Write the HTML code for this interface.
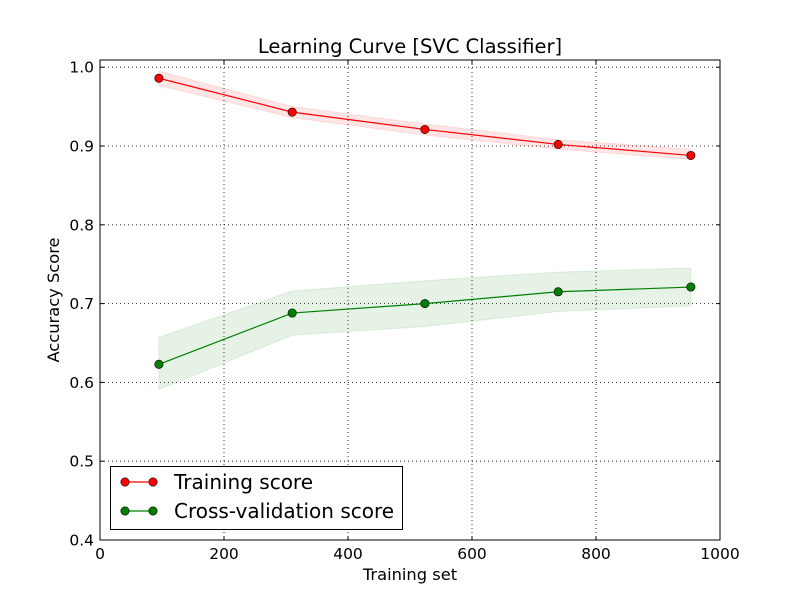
<!DOCTYPE html>
<html><head><meta charset="utf-8"><style>
body{margin:0;background:#fff;position:relative}
svg text{font-family:"DejaVu Sans","Liberation Sans",sans-serif;fill:#000}
</style></head><body>
<svg id="c" width="800" height="600" xmlns="http://www.w3.org/2000/svg">
<rect width="800" height="600" fill="#fff"/>
<g id="plot"></g>
</svg>
<script>
const trainSizes=[95,310,524,739,953];
const trainScore=[0.986,0.943,0.921,0.902,0.888];
const trainUpper=[0.995,0.950,0.928,0.908,0.896];
const trainLower=[0.977,0.936,0.914,0.896,0.883];
const cvScore=[0.623,0.688,0.700,0.715,0.721];
const cvUpper=[0.657,0.716,0.729,0.740,0.745];
const cvLower=[0.591,0.660,0.671,0.690,0.697];
const xTicks=[0,200,400,600,800,1000];
const yTicks=[0.4,0.5,0.6,0.7,0.8,0.9,1.0];
const yTickLabels=["0.4","0.5","0.6","0.7","0.8","0.9","1.0"];

const L=100,R=720,T=60,B=540;
const X=v=>L+(v-0)/(1000)*(R-L);
const Y=v=>B-(v-0.4)*788;
const NS="http://www.w3.org/2000/svg";
const g=document.getElementById('plot');
function mk(tag,attrs,parent){const e=document.createElementNS(NS,tag);for(const k in attrs)e.setAttribute(k,attrs[k]);(parent||g).appendChild(e);return e;}

xTicks.forEach(t=>{if(t>0&&t<1000){const l=mk('line',{x1:X(t),x2:X(t),y1:T,y2:B,stroke:'#000','stroke-width':0.8,'stroke-dasharray':'1,3'});

}});
yTicks.forEach(t=>{if(Y(t)>T+1&&Y(t)<B-1){const l=mk('line',{x1:L,x2:R,y1:Y(t),y2:Y(t),stroke:'#000','stroke-width':0.8,'stroke-dasharray':'1,3'});

}});

function band(up,lo,color,name){
  let pts=trainSizes.map((s,i)=>X(s)+','+Y(up[i]));
  pts=pts.concat(trainSizes.map((s,i)=>X(s)+','+Y(lo[i])).reverse());
  const p=mk('polygon',{points:pts.join(' '),fill:color,'fill-opacity':0.1,stroke:color,'stroke-opacity':0.1});
  
  
}
function series(vals,color,name){
  const pl=mk('polyline',{points:trainSizes.map((s,i)=>X(s)+','+Y(vals[i])).join(' '),fill:'none',stroke:color,'stroke-width':1.2});
  
  
  vals.forEach((v,i)=>{const c=mk('circle',{cx:X(trainSizes[i]),cy:Y(v),r:4.2,fill:color,stroke:'#000','stroke-width':0.6});
  
  });
}
band(trainUpper,trainLower,'#ff0000','training-band');
band(cvUpper,cvLower,'#008000','cv-band');
series(trainScore,'#ff0000','training-score');
series(cvScore,'#008000','cv-score');

const fr=mk('rect',{x:L,y:T,width:R-L,height:B-T,fill:'none',stroke:'#000','stroke-width':1});



xTicks.forEach(t=>{
  mk('line',{x1:X(t),x2:X(t),y1:B,y2:B-4,stroke:'#000'});
  mk('line',{x1:X(t),x2:X(t),y1:T,y2:T+4,stroke:'#000'});
  const tx=mk('text',{x:X(t),y:B+19,'text-anchor':'middle','font-size':15.5});
  tx.textContent=t;
  
  
});
yTicks.forEach((t,i)=>{
  mk('line',{x1:L,x2:L+4,y1:Y(t),y2:Y(t),stroke:'#000'});
  mk('line',{x1:R,x2:R-4,y1:Y(t),y2:Y(t),stroke:'#000'});
  const tx=mk('text',{x:L-6,y:Y(t)+5.5,'text-anchor':'end','font-size':15.5});
  tx.textContent=yTickLabels[i];
  
  
});
</script>
<svg width="800" height="600" style="position:absolute;left:0;top:0" xmlns="http://www.w3.org/2000/svg">
<text x="410" y="53" text-anchor="middle" font-size="19.5">Learning Curve [SVC Classifier]</text>
<text x="410" y="580" text-anchor="middle" font-size="16.3">Training set</text>
<text x="59" y="300" text-anchor="middle" font-size="16.3" transform="rotate(-90 59 300)">Accuracy Score</text>
<g>
<rect x="110.5" y="466.5" width="292" height="63" fill="#fff" stroke="#000"/>
<g>
<line x1="125" x2="153" y1="482" y2="482" stroke="#f00" stroke-width="1.2"/>
<circle cx="125" cy="482" r="4.2" fill="#f00" stroke="#000" stroke-width="0.6"/>
<circle cx="153" cy="482" r="4.2" fill="#f00" stroke="#000" stroke-width="0.6"/>
<text x="174" y="489" font-size="20">Training score</text>
</g>
<g>
<line x1="125" x2="153" y1="511" y2="511" stroke="#008000" stroke-width="1.2"/>
<circle cx="125" cy="511" r="4.2" fill="#008000" stroke="#000" stroke-width="0.6"/>
<circle cx="153" cy="511" r="4.2" fill="#008000" stroke="#000" stroke-width="0.6"/>
<text x="174" y="518" font-size="20">Cross-validation score</text>
</g>
</g>
</svg>
</body></html>
